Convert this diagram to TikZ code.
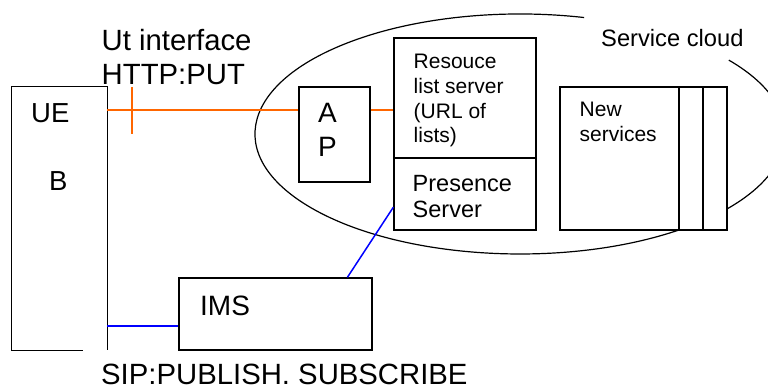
\documentclass[tikz,border=0pt]{standalone}
\usepackage{fontspec}
\setmainfont{Liberation Sans}
\usetikzlibrary{calc}
\definecolor{utorange}{RGB}{255,102,0}
\definecolor{sipblue}{RGB}{0,0,255}
\begin{document}
\begin{tikzpicture}[x=1pt,y=-1pt,
  box/.style={draw, line width=1.3pt, fill=white, inner sep=0pt},
  lbl/.style={anchor=base west, inner sep=0pt, align=left},
  bigfont/.style={font=\fontsize{29.3}{34}\selectfont},
  utline/.style={draw=utorange, line width=1.5pt},
  sipline/.style={draw=sipblue, line width=1.5pt},
  cloudline/.style={draw, line width=1.2pt}]
\useasboundingbox (0,0) rectangle (768,387);

% service cloud outline (gap where its label sits)
\draw[cloudline] (728.8,60.1)
  arc[start angle=-38, end angle=284, x radius=265, y radius=120];

% boxes
\node[inner sep=0pt, minimum width=95pt, minimum height=263pt] (ue) at (59.5,218.5) {};
\draw[line width=1.3pt] ($(ue.south west)+(71,0)$) -- (ue.south west) -- (ue.north west)
  -- (ue.north east) -- (ue.south east);
\node[box, minimum width=71pt, minimum height=95pt] (ap) at (334.5,134.5) {};
\node[box, minimum width=142pt, minimum height=120pt] (rls) at (465,98) {};
\node[box, minimum width=142pt, minimum height=72pt] (ps) at (465,194) {};
\node[box, minimum width=119pt, minimum height=143pt] (ns) at (619.5,158.5) {};
\node[box, minimum width=24pt, minimum height=143pt] (ns2) at (691,158.5) {};
\node[box, minimum width=24pt, minimum height=143pt] (ns3) at (715,158.5) {};
\node[box, minimum width=193pt, minimum height=72pt] (ims) at (275.5,314) {};

% texts (base anchor = baseline of the last line)
\node[lbl, bigfont] (ut) at (101.5,85) {Ut interface\\HTTP:PUT};
\node[lbl, bigfont] (sip) at (101,384) {SIP:PUBLISH. SUBSCRIBE};
\node[lbl, font=\fontsize{27.5}{34}\selectfont] (uet) at (31,191) {UE\\[34pt]\hspace*{18pt}B};
\node[lbl, font=\fontsize{28}{34}\selectfont] (apt) at (318,157) {A\\P};
\node[lbl, font=\fontsize{21}{24.7}\selectfont] (rlst) at (413.5,143) {Resouce\\list server\\(URL of\\lists)};
\node[lbl, font=\fontsize{23.5}{26}\selectfont] (pst) at (412.5,218) {Presence\\Server};
\node[lbl, font=\fontsize{21}{25}\selectfont] (nst) at (579.5,142) {New\\services};
\node[lbl, font=\fontsize{23.7}{28}\selectfont] (cloud) at (601,47) {Service cloud};
\node[lbl, font=\fontsize{28}{34}\selectfont] (imst) at (200,315) {IMS};

% Ut interface (orange)
\coordinate (oy) at (0,110);
\draw[utline] (ue.east |- oy) -- (ap.west |- oy);
\draw[utline] (ap.east |- oy) -- (rls.west |- oy);
\coordinate (tk1) at (132,87);
\coordinate (tk2) at (132,134);
\draw[utline] (tk1) -- (tk2);

% SIP (blue)
\coordinate (by) at (0,326);
\draw[sipline] (ue.east |- by) -- (ims.west |- by);
\draw[sipline] ($(ps.south west)!0.32!(ps.north west)$) -- ($(ims.north west)!0.87!(ims.north east)$);
\end{tikzpicture}
\end{document}
